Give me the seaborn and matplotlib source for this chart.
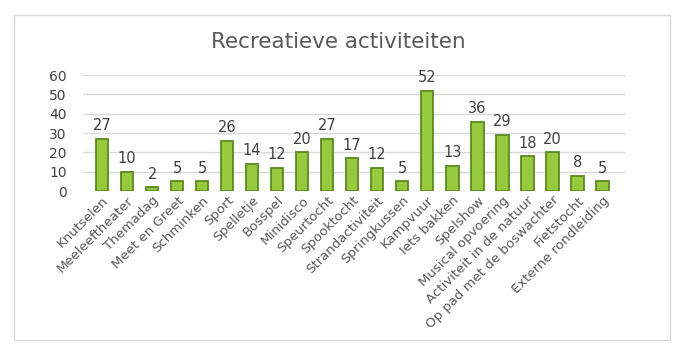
import matplotlib
matplotlib.use("Agg")
import matplotlib.pyplot as plt
import seaborn as sns
import pandas as pd
from matplotlib.patches import Rectangle

categories = ["Knutselen", "Meeleeftheater", "Themadag", "Meet en Greet", "Schminken",
              "Sport", "Spelletje", "Bosspel", "Minidisco", "Speurtocht", "Spooktocht",
              "Strandactiviteit", "Springkussen", "Kampvuur", "Iets bakken", "Spelshow",
              "Musical opvoering", "Activiteit in de natuur", "Op pad met de boswachter",
              "Fietstocht", "Externe rondleiding"]
values = [27, 10, 2, 5, 5, 26, 14, 12, 20, 27, 17, 12, 5, 52, 13, 36, 29, 18, 20, 8, 5]
yticks = [0, 10, 20, 30, 40, 50, 60]

df = pd.DataFrame({"cat": categories, "val": values})

sns.set_style("white")
plt.rcParams['font.family'] = ['DejaVu Sans']

fig = plt.figure(figsize=(6.77, 3.48), dpi=100)
fig.patches.append(Rectangle((14/677, 1-340/348), (670-14)/677, (340-15)/348,
                             transform=fig.transFigure, fill=False,
                             edgecolor='#d9d9d9', linewidth=1))
ax = fig.add_axes([0.123, 0.451, 0.80, 0.333])

sns.barplot(data=df, x="cat", y="val", ax=ax, color='#96C93D', width=0.5,
            edgecolor='#5B8A1E', linewidth=1.3, saturation=1)

ax.set_ylim(0, 60)
ax.set_yticks(yticks)
ax.yaxis.grid(True, color='#d9d9d9', linewidth=1)
ax.set_axisbelow(True)
for s in ax.spines.values():
    s.set_visible(False)
ax.set_xlabel("")
ax.set_ylabel("")
ax.tick_params(axis='y', length=0, labelsize=10, colors='#404040', pad=12)
ax.tick_params(axis='x', length=0, labelsize=9.5, colors='#595959', pad=2)
ax.set_xlim(-0.75, len(categories) - 0.1)
plt.setp(ax.get_xticklabels(), rotation=45, ha='right', rotation_mode='anchor')

for i, v in enumerate(values):
    ax.annotate(str(v), (i, v), xytext=(0, 4), textcoords='offset points',
                ha='center', va='bottom', fontsize=10.5, color='#404040')

fig.text(0.5, 1-42/348, "Recreatieve activiteiten", ha='center', va='center',
         fontsize=15.5, color='#595959')

fig.savefig("out.png", dpi=100)
